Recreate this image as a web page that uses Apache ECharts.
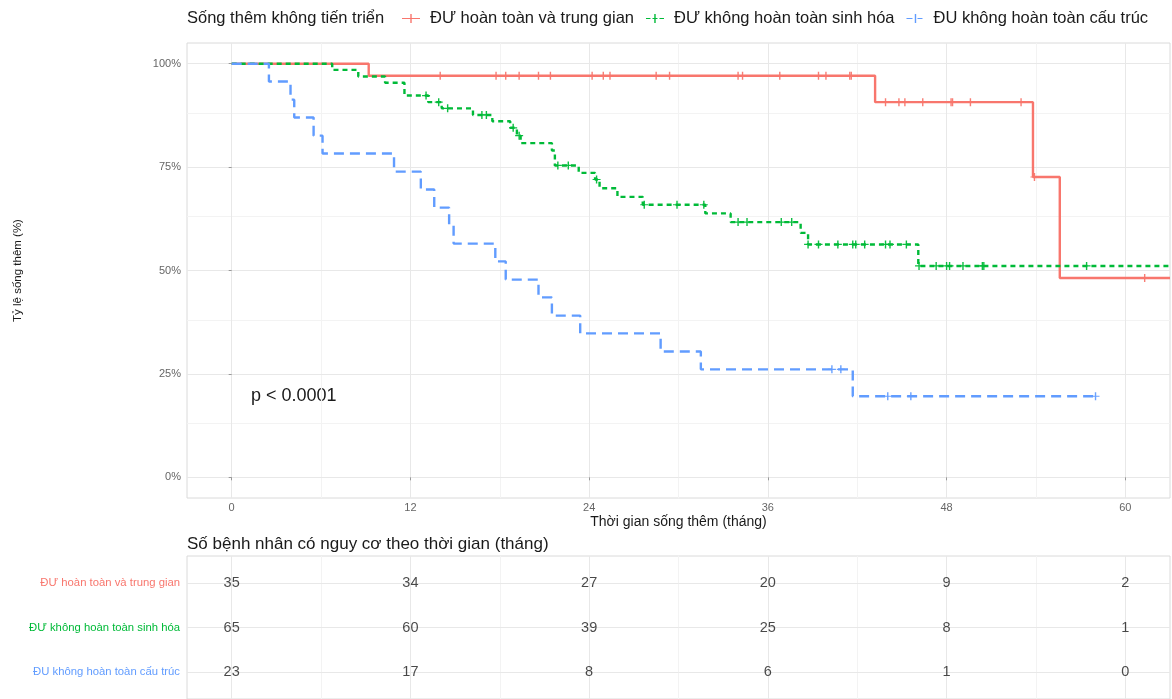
<!DOCTYPE html>
<html>
<head>
<meta charset="utf-8">
<script src="https://cdn.jsdelivr.net/npm/echarts@6/dist/echarts.min.js"></script>
<style>
  html, body { margin: 0; padding: 0; background: #ffffff; }
  #chart { width: 1172px; height: 699px; }
</style>
</head>
<body>
<div id="chart"></div>
<script>
// Progression-free survival (Kaplan–Meier) by response group, with a number-at-risk table.

const groupNames = ['ĐƯ hoàn toàn và trung gian', 'ĐƯ không hoàn toàn sinh hóa', 'ĐU không hoàn toàn cấu trúc'];
const groupColors = ['#F8766D', '#00BA38', '#619CFF'];

// Step times (months) and survival proportion after each step
const redTimes = [0, 9.2, 43.2, 53.8, 55.6, 63];
const redSurv  = [1, 0.971, 0.907, 0.726, 0.482, 0.482];
const redCensored = [14.0, 17.75, 18.4, 19.3, 20.6, 21.4, 24.2, 24.95, 25.4, 28.5, 29.4, 34.0, 34.3,
  36.8, 39.4, 39.9, 41.5, 41.6, 43.9, 44.8, 45.2, 46.4, 48.3, 48.4, 49.6, 53.0, 53.9, 61.3];

const greenTimes = [0, 6.75, 8.5, 10.3, 11.6, 13.2, 14.1, 16.2, 17.5, 18.7, 19.15, 19.4, 21.5, 21.7,
  23.3, 24.4, 24.7, 25.9, 27.6, 31.8, 33.5, 38.2, 38.7, 46.1, 63];
const greenSurv  = [1, 0.985, 0.969, 0.954, 0.923, 0.907, 0.892, 0.876, 0.861, 0.845, 0.826, 0.808, 0.790, 0.754,
  0.736, 0.720, 0.699, 0.678, 0.659, 0.638, 0.617, 0.591, 0.563, 0.511, 0.511];
const greenCensored = [13.05, 13.9, 14.5, 16.8, 17.1, 18.9, 19.3, 21.9, 22.6, 24.5, 27.7, 29.9, 31.7,
  34.0, 34.6, 36.9, 37.6, 38.7, 39.4, 40.7, 41.7, 41.9, 42.5, 43.9, 44.2, 45.3, 46.15, 47.3, 48.0, 48.2,
  49.1, 50.4, 50.5, 57.4];

const blueTimes = [0, 2.5, 3.95, 4.2, 5.5, 6.1, 10.9, 12.7, 13.6, 14.6, 14.9, 17.7, 18.4, 20.6, 21.5,
  23.4, 28.8, 31.5, 41.7, 58.0];
const blueSurv  = [1, 0.957, 0.913, 0.870, 0.826, 0.783, 0.739, 0.696, 0.652, 0.609, 0.565, 0.522, 0.478,
  0.435, 0.391, 0.348, 0.304, 0.261, 0.196, 0.196];
const blueCensored = [40.3, 40.9, 44.05, 45.6, 58.0];

// Number at risk
const riskTimes = [0, 12, 24, 36, 48, 60];
const riskRed   = [35, 34, 27, 20, 9, 2];
const riskGreen = [65, 60, 39, 25, 8, 1];
const riskBlue  = [23, 17, 8, 6, 1, 0];

// Axis ticks
const xTicks = [0, 12, 24, 36, 48, 60];
const xMinorTicks = [6, 18, 30, 42, 54];
const yTicks = [0, 0.25, 0.5, 0.75, 1];
const yMinorTicks = [0.125, 0.375, 0.625, 0.875];
const tableRows = [1, 2, 3];

const pValueText = 'p < 0.0001';

const FONT = '"Liberation Sans", Arial, Helvetica, sans-serif';
const X_MIN = -3, X_MAX = 63;
const GRID_LEFT = 187, GRID_RIGHT = 2;

function survAt(times, surv, t) {
  let s = surv[0];
  for (let i = 0; i < times.length; i++) {
    if (times[i] <= t) s = surv[i];
  }
  return s;
}

const groups = [
  { times: redTimes, surv: redSurv, cens: redCensored, risk: riskRed, dash: 'solid' },
  { times: greenTimes, surv: greenSurv, cens: greenCensored, risk: riskGreen, dash: [5, 4] },
  { times: blueTimes, surv: blueSurv, cens: blueCensored, risk: riskBlue, dash: [10, 6] }
];

const crossPath = 'path://M0,3.4H8V4.6H0Z M3.3,0H4.7V8H3.3Z';
const legendIcons = [
  'path://M0,3.9H18V5.1H0Z M8.3,0H9.7V9H8.3Z',
  'path://M0,3.9H4.5V5.1H0Z M6.5,3.9H11.5V5.1H6.5Z M13.5,3.9H18V5.1H13.5Z M8.3,0H9.7V9H8.3Z',
  'path://M0,3.9H6V5.1H0Z M11,3.9H16V5.1H11Z M8.3,0H9.7V9H8.3Z'
];

function gridLineSeries(xi, yi, xs, ys, color, width) {
  return {
    type: 'line', xAxisIndex: xi, yAxisIndex: yi, data: [], silent: true, z: 0,
    markLine: {
      silent: true, z: 0, animation: false, symbol: ['none', 'none'],
      label: { show: false }, emphasis: { disabled: true },
      lineStyle: { color: color, width: width, type: 'solid' },
      data: xs.map(v => ({ xAxis: v })).concat(ys.map(v => ({ yAxis: v })))
    }
  };
}

const series = [];
// background grid lines
series.push(gridLineSeries(0, 0, xMinorTicks, yMinorTicks, '#f3f3f3', 1));
series.push(gridLineSeries(0, 0, xTicks, yTicks, '#e8e8e8', 1));
series.push(gridLineSeries(1, 1, xMinorTicks, [], '#f3f3f3', 1));
series.push(gridLineSeries(1, 1, xTicks, tableRows, '#e8e8e8', 1));

groups.forEach((g, i) => {
  series.push({
    name: groupNames[i], type: 'line', step: 'end', xAxisIndex: 0, yAxisIndex: 0,
    showSymbol: false, symbol: 'none', z: 3, animation: false,
    lineStyle: { color: groupColors[i], width: 2.4, type: g.dash, cap: 'butt' },
    itemStyle: { color: groupColors[i] },
    data: g.times.map((t, k) => [t, g.surv[k]])
  });
  series.push({
    name: groupNames[i], type: 'scatter', xAxisIndex: 0, yAxisIndex: 0, z: 4, animation: false,
    symbol: crossPath, symbolSize: [8, 8],
    itemStyle: { color: groupColors[i], opacity: 0.95 },
    data: g.cens.map(t => [t, survAt(g.times, g.surv, t)])
  });
  // number-at-risk row
  series.push({
    type: 'scatter', xAxisIndex: 1, yAxisIndex: 1, z: 4, animation: false, silent: true,
    symbol: 'circle', symbolSize: 1, itemStyle: { color: 'rgba(0,0,0,0)' },
    label: {
      show: true, position: 'inside', fontFamily: FONT, fontSize: 14.5, color: '#1a1a1a',
      formatter: p => String(p.value[2])
    },
    data: riskTimes.map((t, k) => [t, i + 1, g.risk[k]])
  });
});

const chart = echarts.init(document.getElementById('chart'), null, { renderer: 'canvas' });
chart.setOption({
  animation: false,
  backgroundColor: '#ffffff',
  textStyle: { fontFamily: FONT },
  title: [
    { text: 'Sống thêm không tiến triển', left: 182, top: 5,
      textStyle: { fontFamily: FONT, fontSize: 16.5, fontWeight: 'normal', color: '#1a1a1a' } },
    { text: 'Số bệnh nhân có nguy cơ theo thời gian (tháng)', left: 182, top: 531,
      textStyle: { fontFamily: FONT, fontSize: 17, fontWeight: 'normal', color: '#1a1a1a' } }
  ],
  legend: {
    left: 397, top: 5, itemWidth: 18, itemHeight: 9, itemGap: 12, selectedMode: false,
    textStyle: { fontFamily: FONT, fontSize: 16.5, color: '#1a1a1a', padding: [0, 0, 0, 5] },
    data: groupNames.map((n, i) => ({ name: n, icon: legendIcons[i], itemStyle: { color: groupColors[i], borderWidth: 0 } }))
  },
  grid: [
    { left: GRID_LEFT, right: GRID_RIGHT, top: 43, height: 455, show: true,
      borderColor: '#dadada', borderWidth: 1, backgroundColor: 'transparent', containLabel: false },
    { left: GRID_LEFT, right: GRID_RIGHT, top: 556, height: 144, show: true,
      borderColor: '#dadada', borderWidth: 1, backgroundColor: 'transparent', containLabel: false }
  ],
  xAxis: [
    { type: 'value', gridIndex: 0, min: X_MIN, max: X_MAX,
      name: 'Thời gian sống thêm (tháng)', nameLocation: 'middle', nameGap: 17, nameMoveOverlap: false,
      nameTextStyle: { fontFamily: FONT, fontSize: 14, color: '#1a1a1a' },
      axisLine: { show: false }, splitLine: { show: false },
      axisTick: { show: true, customValues: xTicks, length: 3, lineStyle: { color: '#999999' } },
      axisLabel: { customValues: xTicks, fontFamily: FONT, fontSize: 11, color: '#666666', margin: 4 } },
    { type: 'value', gridIndex: 1, min: X_MIN, max: X_MAX,
      axisLine: { show: false }, splitLine: { show: false }, axisTick: { show: false },
      axisLabel: { show: false } }
  ],
  yAxis: [
    { type: 'value', gridIndex: 0, min: -0.05, max: 1.05,
      name: 'Tỷ lệ sống thêm (%)', nameLocation: 'middle', nameGap: 163,
      nameTextStyle: { fontFamily: FONT, fontSize: 11.5, color: '#1a1a1a' },
      axisLine: { show: false }, splitLine: { show: false },
      axisTick: { show: true, customValues: yTicks, length: 3, lineStyle: { color: '#999999' } },
      axisLabel: { customValues: yTicks, fontFamily: FONT, fontSize: 11, color: '#666666', margin: 6,
        formatter: v => Math.round(v * 100) + '%' } },
    { type: 'value', gridIndex: 1, min: 0.4, max: 3.6, inverse: true,
      axisLine: { show: false }, splitLine: { show: false }, axisTick: { show: false },
      axisLabel: { customValues: tableRows, margin: 7,
        formatter: v => '{g' + (Math.round(v) - 1) + '|' + groupNames[Math.round(v) - 1] + '}',
        rich: {
          g0: { color: groupColors[0], fontFamily: FONT, fontSize: 11.3 },
          g1: { color: groupColors[1], fontFamily: FONT, fontSize: 11.3 },
          g2: { color: groupColors[2], fontFamily: FONT, fontSize: 11.3 }
        } } }
  ],
  graphic: [
    { type: 'text', left: 251, top: 387,
      style: { text: pValueText, fontFamily: FONT, fontSize: 18, fill: '#1a1a1a' } }
  ],
  series: series
});
</script>
</body>
</html>
